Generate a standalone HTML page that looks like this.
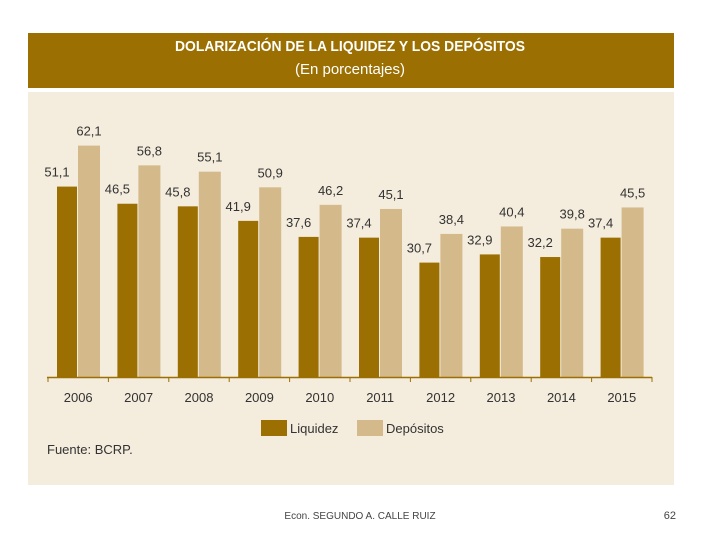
<!DOCTYPE html>
<html><head><meta charset="utf-8"><style>
body{margin:0;width:720px;height:540px;background:#fff;position:relative;font-family:"Liberation Sans",sans-serif;overflow:hidden}
</style></head><body>
<svg width="720" height="540" style="position:absolute;left:0;top:0">
<rect x="28" y="33" width="646" height="55" fill="#9b6f02"/>
<rect x="28" y="92" width="646" height="393" fill="#f4ecdc"/>
<text x="350" y="51" text-anchor="middle" font-size="15" font-weight="bold" fill="#fff" textLength="350" lengthAdjust="spacingAndGlyphs">DOLARIZACIÓN DE LA LIQUIDEZ Y LOS DEPÓSITOS</text>
<text x="350" y="74" text-anchor="middle" font-size="15" fill="#fff">(En porcentajes)</text>
<g id="bars"></g>
<line x1="47" y1="377.5" x2="652" y2="377.5" stroke="#9b6f02" stroke-width="1.5"/>
<g id="ticks"></g>
<rect x="261" y="420" width="26" height="16" fill="#9b6f02"/>
<text x="290" y="433" font-size="13" fill="#333">Liquidez</text>
<rect x="357" y="420" width="26" height="16" fill="#d4b98a"/>
<text x="386" y="433" font-size="13" fill="#333">Depósitos</text>
<text x="47" y="454" font-size="13" fill="#333">Fuente: BCRP.</text>
<text x="360" y="519" text-anchor="middle" font-size="10" fill="#444">Econ. SEGUNDO A. CALLE RUIZ</text>
<text x="676" y="519" text-anchor="end" font-size="11" fill="#444">62</text>
</svg>
<script>
const years=["2006","2007","2008","2009","2010","2011","2012","2013","2014","2015"];
const liquidez=[51.1,46.5,45.8,41.9,37.6,37.4,30.7,32.9,32.2,37.4];
const depositos=[62.1,56.8,55.1,50.9,46.2,45.1,38.4,40.4,39.8,45.5];
const NS="http://www.w3.org/2000/svg";
const x0=48,step=60.4,baseY=377,k=3.726;
const y=v=>baseY-v*k;
const bars=document.getElementById('bars'),ticks=document.getElementById('ticks');
function mk(tag,attrs,parent){const e=document.createElementNS(NS,tag);for(const a in attrs)e.setAttribute(a,attrs[a]);parent.appendChild(e);return e;}
const fmt=v=>v.toFixed(1).replace('.',',');
years.forEach((yr,i)=>{
  const gx=x0+i*step;
  const r1=mk('rect',{x:gx+9,y:y(liquidez[i]),width:20,height:liquidez[i]*k,fill:'#9b6f02'},bars);
  
  
  const r2=mk('rect',{x:gx+30,y:y(depositos[i]),width:22,height:depositos[i]*k,fill:'#d4b98a'},bars);
  
  
  const t1=mk('text',{x:gx+9,y:y(liquidez[i])-10,'text-anchor':'middle','font-size':13,fill:'#333'},bars);
  t1.textContent=fmt(liquidez[i]);
  
  
  const t2=mk('text',{x:gx+41,y:y(depositos[i])-10,'text-anchor':'middle','font-size':13,fill:'#333'},bars);
  t2.textContent=fmt(depositos[i]);
  
  
  const tk=mk('line',{x1:gx,y1:377,x2:gx,y2:382,stroke:'#9b6f02','stroke-width':1},ticks);
  
  
  const yl=mk('text',{x:gx+step/2,y:402,'text-anchor':'middle','font-size':13,fill:'#333'},ticks);
  yl.textContent=yr;
  
  
});
const tl=mk('line',{x1:x0+10*step,y1:377,x2:x0+10*step,y2:382,stroke:'#9b6f02'},ticks);


</script>
</body></html>
